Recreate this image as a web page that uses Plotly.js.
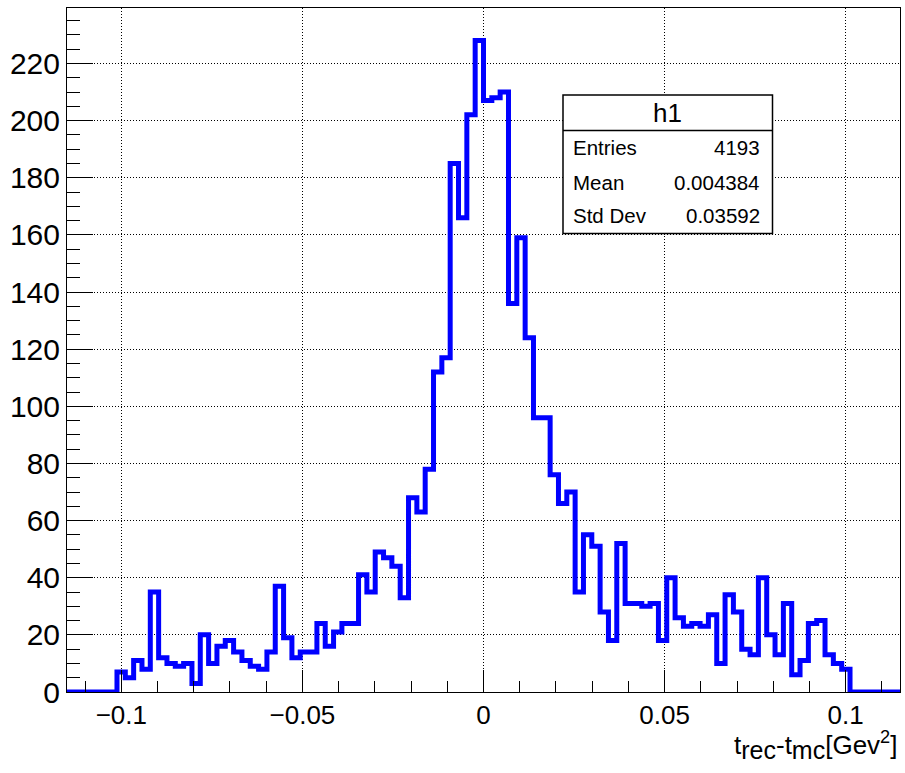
<!DOCTYPE html>
<html>
<head>
<meta charset="utf-8">
<script src="https://cdn.plot.ly/plotly-3.0.1.min.js"></script>
<style>
  html, body { margin: 0; padding: 0; background: #ffffff; }
  #plot { width: 905px; height: 773px; }
</style>
</head>
<body>
<div id="plot"></div>
<script>
// Histogram h1: 100 bins of t_rec - t_mc on [-0.115, 0.115]
const binLow = -0.115;
const binHigh = 0.115;
const counts = [
  0, 0, 0, 0, 0, 0, 7, 5, 11, 8,
  35, 12, 10, 9, 10, 3, 20, 10, 16, 18,
  14, 11, 9, 8, 14, 37, 19, 12, 14, 14,
  24, 16, 21, 24, 24, 41, 35, 49, 47, 44,
  33, 68, 63, 78, 112, 117, 185, 166, 202, 228,
  207, 208, 210, 136, 159, 124, 96, 96, 76, 66,
  70, 35, 55, 51, 28, 18, 52, 31, 31, 30,
  31, 18, 40, 26, 23, 24, 23, 27, 10, 34,
  28, 15, 13, 40, 20, 13, 31, 6, 11, 24,
  25, 13, 10, 8, 0, 0, 0, 0, 0, 0
];

// Statistics box contents
const statsTitle = "h1";
const statsLabels = ["Entries", "Mean", "Std Dev"];
const statsValues = ["4193", "0.004384", "0.03592"];

// Axis title (subscripts drawn larger than the default 70%)
const sub = s => '<sub><span style="font-size:25px">' + s + '</span></sub>';
const xTitle = "t" + sub("rec") + "-t" + sub("mc") + "[Gev<sup>2</sup>]";

// Step outline: one point per bin edge, last edge repeats the final count
const nBins = counts.length;
const width = (binHigh - binLow) / nBins;
const stepX = [];
const stepY = [];
for (let i = 0; i <= nBins; i++) {
  stepX.push(binLow + i * width);
  stepY.push(i < nBins ? counts[i] : counts[nBins - 1]);
}
const yMax = Math.max(...counts) * 1.05;

// Plot frame in pixels (905 x 773 page)
const M = { l: 67, r: 5, t: 8, b: 81 };
const W = 905, H = 773;
const pw = W - M.l - M.r, ph = H - M.t - M.b;
const px = v => (v - M.l) / pw;
const py = v => (H - M.b - v) / ph;

const font = "Liberation Sans, Arial, Helvetica, sans-serif";

const trace = {
  type: "scatter",
  mode: "lines",
  x: stepX,
  y: stepY,
  line: { shape: "hv", color: "#0000ff", width: 5 },
  hoverinfo: "skip",
  showlegend: false
};

// Stats box geometry
const boxL = 563, boxR = 772.5, boxT = 95, boxB = 233.5, sepY = 130.5;
const rowY = [147.5, 182, 215];

const shapes = [
  { type: "rect", xref: "paper", yref: "paper",
    x0: px(boxL), x1: px(boxR), y0: py(boxB), y1: py(boxT),
    line: { color: "#000", width: 1.5 }, fillcolor: "#fff", layer: "above" },
  { type: "line", xref: "paper", yref: "paper",
    x0: px(boxL), x1: px(boxR), y0: py(sepY), y1: py(sepY),
    line: { color: "#000", width: 1.5 }, layer: "above" }
];

const annotations = [
  { xref: "paper", yref: "paper", x: px((boxL + boxR) / 2), y: py(113),
    text: statsTitle, showarrow: false, xanchor: "center", yanchor: "middle",
    font: { family: font, size: 26, color: "#000" } }
];
statsLabels.forEach((lab, i) => {
  annotations.push({ xref: "paper", yref: "paper", x: px(571), y: py(rowY[i]),
    text: lab, showarrow: false, xanchor: "left", yanchor: "middle",
    font: { family: font, size: 20.5, color: "#000" } });
  annotations.push({ xref: "paper", yref: "paper", x: px(762), y: py(rowY[i]),
    text: statsValues[i], showarrow: false, xanchor: "right", yanchor: "middle",
    font: { family: font, size: 20.5, color: "#000" } });
});
annotations.push({ xref: "paper", yref: "paper", x: px(899), y: py(745),
  text: xTitle, showarrow: false, xanchor: "right", yanchor: "middle",
  font: { family: font, size: 26, color: "#000" } });

const layout = {
  width: W, height: H,
  margin: M,
  paper_bgcolor: "#fff",
  plot_bgcolor: "#fff",
  showlegend: false,
  font: { family: font, color: "#000" },
  xaxis: {
    range: [binLow, binHigh],
    tick0: 0, dtick: 0.05,
    ticks: "inside", ticklen: 22, tickwidth: 1, tickcolor: "#000",
    minor: { dtick: 0.01, ticks: "inside", ticklen: 11, tickwidth: 1, tickcolor: "#000", showgrid: false },
    showgrid: true, gridcolor: "#000", gridwidth: 1, griddash: "1px,2px",
    zeroline: false,
    showline: true, linecolor: "#000", linewidth: 1, mirror: true,
    tickfont: { family: font, size: 26, color: "#000" },
    fixedrange: true
  },
  yaxis: {
    range: [0, yMax],
    tick0: 0, dtick: 20,
    ticks: "inside", ticklen: 26, tickwidth: 1, tickcolor: "#000",
    minor: { dtick: 5, ticks: "inside", ticklen: 13, tickwidth: 1, tickcolor: "#000", showgrid: false },
    showgrid: true, gridcolor: "#000", gridwidth: 1, griddash: "1px,2px",
    zeroline: false,
    showline: true, linecolor: "#000", linewidth: 1, mirror: true,
    tickfont: { family: font, size: 30, color: "#000" },
    fixedrange: true
  },
  shapes: shapes,
  annotations: annotations
};

Plotly.newPlot("plot", [trace], layout, { staticPlot: true, displayModeBar: false });
</script>
</body>
</html>
